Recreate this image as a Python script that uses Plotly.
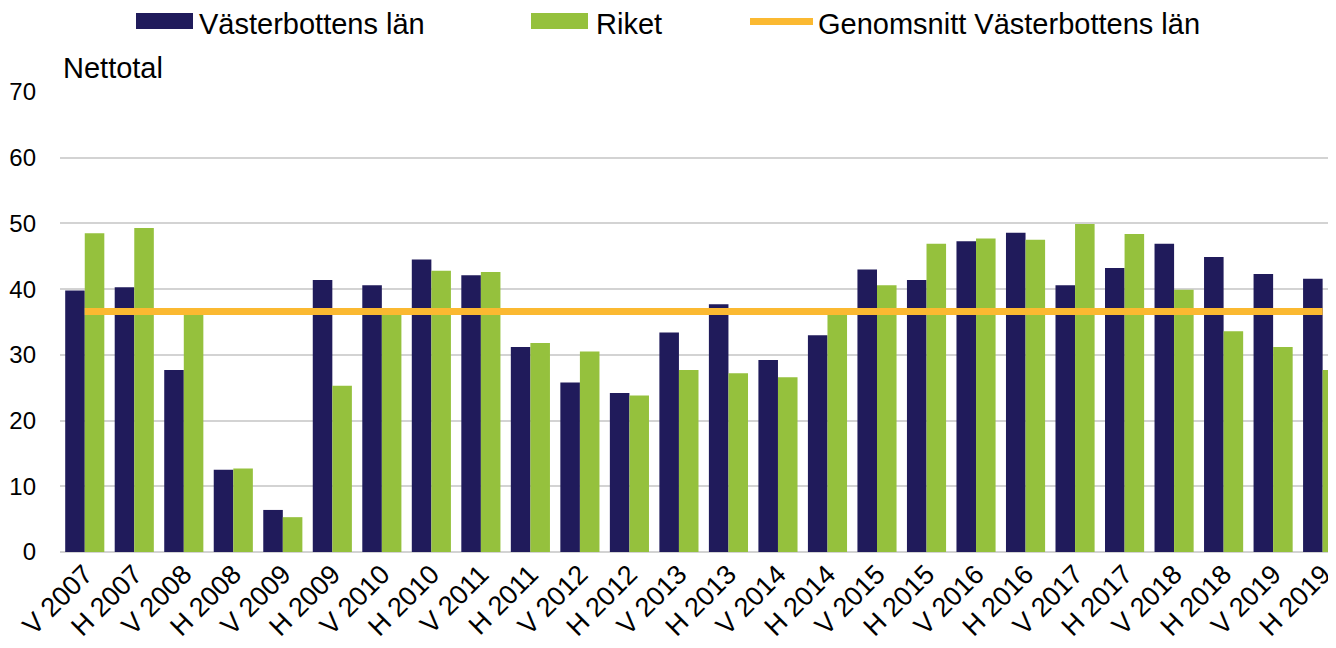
import plotly.graph_objects as go

# Halvår (V = vår, H = höst)
categories = ["V 2007", "H 2007", "V 2008", "H 2008", "V 2009", "H 2009",
              "V 2010", "H 2010", "V 2011", "H 2011", "V 2012", "H 2012",
              "V 2013", "H 2013", "V 2014", "H 2014", "V 2015", "H 2015",
              "V 2016", "H 2016", "V 2017", "H 2017", "V 2018", "H 2018",
              "V 2019", "H 2019"]

vasterbotten = [39.8, 40.3, 27.7, 12.5, 6.4, 41.4, 40.6, 44.5, 42.1, 31.2,
                25.8, 24.2, 33.4, 37.7, 29.2, 33.0, 43.0, 41.4, 47.3, 48.6,
                40.6, 43.2, 46.9, 44.9, 42.3, 41.6]
riket = [48.5, 49.3, 36.4, 12.7, 5.3, 25.3, 36.6, 42.8, 42.6, 31.8,
         30.5, 23.8, 27.7, 27.2, 26.6, 36.4, 40.6, 46.9, 47.7, 47.5,
         49.9, 48.4, 39.9, 33.6, 31.2, 27.7]
snitt_vasterbotten = 36.6

y_ticks = [0, 10, 20, 30, 40, 50, 60, 70]

navy = "#201b5b"
green = "#95c13d"
orange = "#fbb931"
font = "Liberation Sans, Arial, sans-serif"

# the page body has an 8px margin, so the figure is 8px smaller
PAGE_OFF = 8
# plot area in page pixels, used to place the hand-made legend
L, T, W, H = 60, 92, 1276, 460


def px(x):
    return (x - L) / W


def py(y):
    return (T + H - y) / H


fig = go.Figure()
fig.add_trace(go.Bar(name="Västerbottens län", x=categories, y=vasterbotten,
                     marker_color=navy, marker_line_width=0))
fig.add_trace(go.Bar(name="Riket", x=categories, y=riket,
                     marker_color=green, marker_line_width=0))
fig.add_trace(go.Scatter(name="Genomsnitt Västerbottens län", x=categories,
                         y=[snitt_vasterbotten] * len(categories),
                         mode="lines", line=dict(color=orange, width=7)))

# legend drawn by hand to get the wide swatches
shapes = [
    dict(type="rect", xref="paper", yref="paper", x0=px(136), x1=px(193),
         y0=py(29), y1=py(13), fillcolor=navy, line_width=0),
    dict(type="rect", xref="paper", yref="paper", x0=px(531), x1=px(588),
         y0=py(29), y1=py(13), fillcolor=green, line_width=0),
    dict(type="line", xref="paper", yref="paper", x0=px(750), x1=px(813),
         y0=py(21.5), y1=py(21.5), line=dict(color=orange, width=7)),
]
annotations = [
    dict(text="Västerbottens län", x=px(197), y=py(24)),
    dict(text="Riket", x=px(594), y=py(24)),
    dict(text="Genomsnitt Västerbottens län", x=px(816), y=py(24)),
]
annotations = [dict(a, xref="paper", yref="paper", xanchor="left",
                    yanchor="middle", showarrow=False,
                    font=dict(size=29, color="#000000", family=font))
               for a in annotations]
annotations.append(dict(text="Nettotal", xref="paper", yref="paper",
                        x=px(61), y=py(68), xanchor="left", yanchor="middle",
                        showarrow=False,
                        font=dict(size=29, color="#000000", family=font)))

fig_w, fig_h = 1336 - PAGE_OFF, 648 - PAGE_OFF
fig.update_layout(
    width=fig_w, height=fig_h,
    margin=dict(l=L - PAGE_OFF, r=0, t=T - PAGE_OFF,
                b=fig_h - (T - PAGE_OFF) - H),
    paper_bgcolor="white", plot_bgcolor="white",
    barmode="group", bargap=0.21, bargroupgap=0,
    showlegend=False,
    font=dict(family=font, color="#000000"),
    shapes=shapes, annotations=annotations,
)
fig.update_xaxes(range=[-0.5, 25.27], tickangle=-45, showgrid=False,
                 ticks="", tickfont=dict(size=27), showline=False,
                 automargin=False)
fig.update_yaxes(range=[0, 70], tickvals=y_ticks, tickfont=dict(size=24),
                 gridcolor="#d3d3d3", gridwidth=1.5, zeroline=True,
                 zerolinecolor="#d3d3d3", zerolinewidth=1.5,
                 ticklabelstandoff=23, showline=False, automargin=False)

fig.write_html("out.html")
